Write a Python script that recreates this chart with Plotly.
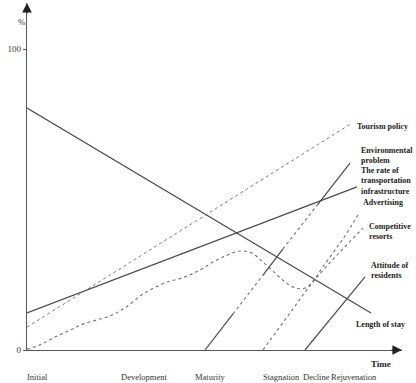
import plotly.graph_objects as go

# ---- data (time axis in arbitrary units, value in %) ----
stay_x = [0, 344]
stay_y = [80.4, 12.3]

transport_x = [0, 330]
transport_y = [12.3, 54.2]

tourism_x = [0, 325]
tourism_y = [7.6, 75.4]

advert_x = [0, 13, 28, 43, 56, 73, 85, 98, 116, 138, 158, 173, 188, 201, 213, 225, 236,
            248, 258, 266, 273, 280, 287, 295, 308, 318, 331]
advert_y = [0.3, 1.7, 4.3, 6.6, 8.6, 10.3, 11.6, 14.0, 18.6, 22.3, 24.3, 26.6, 29.6, 31.6,
            32.9, 32.2, 29.2, 25.6, 22.6, 20.9, 20.3, 20.9, 23.3, 27.2, 33.2, 37.9, 44.9]

compet_x = [236, 263, 286, 311, 336]
compet_y = [0, 12.3, 22.6, 31.9, 40.5]

attitude_x = [278, 338]
attitude_y = [0, 24.3]

env_x = [178, 206, 236, 256, 291, 323]
env_y = [0, 12.0, 24.9, 33.6, 48.5, 62.1]

stages = ["Initial", "Development", "Maturity", "Stagnation", "Decline", "Rejuvenation"]
stage_x = [10, 117, 183, 254, 289, 327]

y_tickvals = [0, 100]
y_ticktext = ["0", "100"]

# ---- styles ----
SOLID = dict(color="#4a4a4a", width=1.2)
DOT = dict(color="#707070", width=1.1, dash="dot")
SERIF = "Liberation Serif"

fig = go.Figure()

def add(x, y, line, shape="linear"):
    fig.add_trace(go.Scatter(x=x, y=y, mode="lines", line=dict(**line, shape=shape),
                             showlegend=False, hoverinfo="skip", cliponaxis=False))

add(stay_x, stay_y, SOLID)
add(transport_x, transport_y, SOLID)
add(tourism_x, tourism_y, dict(color="#7a7a7a", width=1.0, dash="dot"))
add(advert_x, advert_y, DOT, "spline")
add(compet_x, compet_y, DOT, "spline")
add(attitude_x, attitude_y, SOLID)
# environmental problem line: alternating solid / dotted segments
for i in range(len(env_x) - 1):
    add(env_x[i:i + 2], env_y[i:i + 2], SOLID if i % 2 == 0 else DOT)

ann = []
lab_font = dict(family=SERIF, size=8, color="#222")

def label(lines, x, y, dx, dy):
    # dy: vertical shift (px, up positive) of the label block's centre from the line end
    ann.append(dict(x=x, y=y, text="<br>".join("<b>%s</b>" % t for t in lines),
                    showarrow=False, xanchor="left", yanchor="middle", align="left",
                    xshift=dx, yshift=dy, font=lab_font))

label(["Tourism policy"], tourism_x[-1], tourism_y[-1], 3, -3)
label(["Environmental", "problem"], env_x[-1], env_y[-1], 9, 8)
label(["The rate of", "transportation", "infrastructure"], transport_x[-1], transport_y[-1], 2, 6)
label(["Advertising"], advert_x[-1], advert_y[-1], 3, 12)
label(["Competitive", "resorts"], compet_x[-1], compet_y[-1], 4, -3.5)
label(["Attitude of", "residents"], attitude_x[-1], attitude_y[-1], 4, 6.5)
label(["Length of stay"], stay_x[-1], stay_y[-1], -17, -12)

for s, sx in zip(stages, stage_x):
    ann.append(dict(x=sx, y=0, text=s, showarrow=False, yshift=-27, xanchor="center",
                    yanchor="middle", font=dict(family=SERIF, size=8.5, color="#333")))

ann.append(dict(x=366, y=0, text="<b>Time</b>", showarrow=False, xanchor="right",
                yanchor="middle", yshift=-14, font=dict(family=SERIF, size=9, color="#222")))
ann.append(dict(x=0, y=115.3, text="%", showarrow=False, xanchor="center", yanchor="middle",
                xshift=-5, yshift=-19, font=dict(family=SERIF, size=9, color="#333")))

# axis arrows
ann.append(dict(x=375, y=0, ax=-12, ay=0, showarrow=True, arrowhead=2, arrowsize=1.6,
                arrowwidth=1.2, arrowcolor="#222", text=""))
ann.append(dict(x=0, y=115.3, ax=0, ay=12, showarrow=True, arrowhead=2, arrowsize=1.6,
                arrowwidth=1.2, arrowcolor="#222", text=""))

fig.update_layout(
    width=416, height=383,
    margin=dict(l=27, r=14, t=3, b=33),
    paper_bgcolor="white", plot_bgcolor="white",
    annotations=ann,
    xaxis=dict(range=[0, 375], showgrid=False, zeroline=False, showticklabels=False,
               showline=True, linecolor="#555", linewidth=1.2, ticks=""),
    yaxis=dict(range=[0, 115.3], showgrid=False, zeroline=False, showline=True,
               linecolor="#555", linewidth=1.2, tickvals=y_tickvals, ticktext=y_ticktext,
               ticks="outside", ticklen=3, tickcolor="#555",
               tickfont=dict(family=SERIF, size=9, color="#333")),
)

fig.write_html("out.html")
